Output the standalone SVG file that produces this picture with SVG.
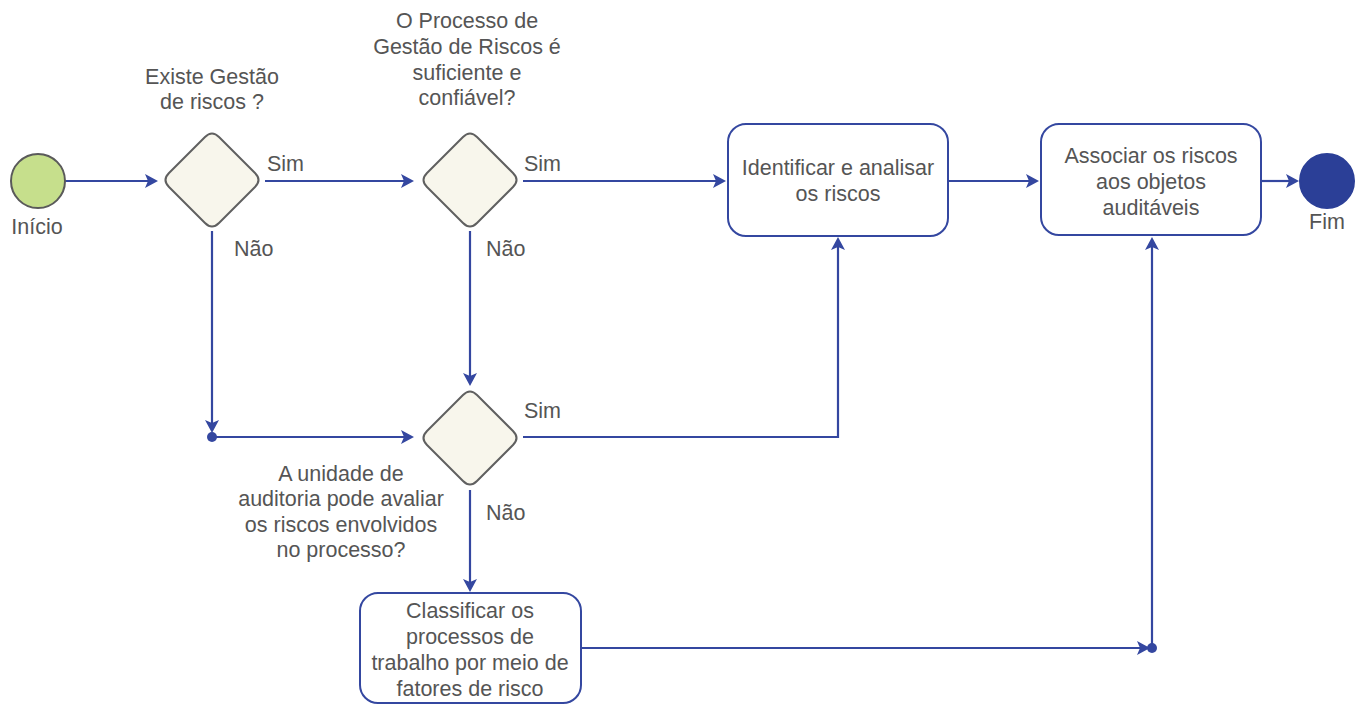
<svg xmlns="http://www.w3.org/2000/svg" width="1364" height="704" viewBox="0 0 1364 704">
<defs>
<style>
.t{font-family:"Liberation Sans",Arial,sans-serif;font-size:21.5px;fill:#555555;text-anchor:middle}
.l{font-family:"Liberation Sans",Arial,sans-serif;font-size:21.5px;fill:#555555}
.c{fill:none;stroke:#3447a0;stroke-width:2.2}
.d{fill:#f8f6ec;stroke:#606060;stroke-width:2;stroke-linejoin:round}
.b{fill:#ffffff;stroke:#3447a0;stroke-width:2}
</style>
</defs>
<rect width="1364" height="704" fill="#ffffff"/>
<g id="connectors">
<path class="c" d="M65,181 H150"/>
<path class="c" d="M265,181 H406"/>
<path class="c" d="M523,181 H718"/>
<path class="c" d="M949,181 H1031"/>
<path class="c" d="M1262,181 H1290"/>
<path class="c" d="M212,231 V425"/>
<path class="c" d="M212,437 H406"/>
<path class="c" d="M470,231 V377"/>
<path class="c" d="M523,437 H838 V246"/>
<path class="c" d="M470,490 V583"/>
<path class="c" d="M582,648 H1142"/>
<path class="c" d="M1152,648 V246"/>
<circle cx="212" cy="437" r="5" fill="#3447a0"/>
<circle cx="1152" cy="648" r="5" fill="#3447a0"/>
<text class="l" x="267" y="171">Sim</text>
<text class="l" x="524" y="171">Sim</text>
<text class="l" x="524" y="418">Sim</text>
<text class="l" x="234" y="256">Não</text>
<text class="l" x="486" y="256">Não</text>
<text class="l" x="486" y="520">Não</text>
</g>
<g id="arrowheads" fill="#3447a0">
<path d="M158,181 l-13,-7 l3,7 l-3,7 z"/>
<path d="M414,181 l-13,-7 l3,7 l-3,7 z"/>
<path d="M726,181 l-13,-7 l3,7 l-3,7 z"/>
<path d="M1039,181 l-13,-7 l3,7 l-3,7 z"/>
<path d="M1299,181 l-13,-7 l3,7 l-3,7 z"/>
<path d="M414,437 l-13,-7 l3,7 l-3,7 z"/>
<path d="M1150,648 l-13,-7 l3,7 l-3,7 z"/>
<path d="M212,433 l-7,-13 l7,3 l7,-3 z"/>
<path d="M470,386 l-7,-13 l7,3 l7,-3 z"/>
<path d="M470,592 l-7,-13 l7,3 l7,-3 z"/>
<path d="M838,237 l-7,13 l7,-3 l7,3 z"/>
<path d="M1152,237 l-7,13 l7,-3 l7,3 z"/>
</g>
<g id="start">
<circle cx="38" cy="181" r="27" fill="#c6df8c" stroke="#5a5a5a" stroke-width="2"/>
<text class="t" x="37" y="234">Início</text>
</g>
<g id="decision1">
<path class="d" d="M205,137 Q212,130 219,137 L255,173 Q262,180 255,187 L219,223 Q212,230 205,223 L169,187 Q162,180 169,173 Z"/>
<text class="t" x="212" y="84">Existe Gestão</text>
<text class="t" x="212" y="109">de riscos ?</text>
</g>
<g id="decision2">
<path class="d" d="M463,137 Q470,130 477,137 L513,173 Q520,180 513,187 L477,223 Q470,230 463,223 L427,187 Q420,180 427,173 Z"/>
<text class="t" x="467" y="28">O Processo de</text>
<text class="t" x="467" y="54">Gestão de Riscos é</text>
<text class="t" x="467" y="80">suficiente e</text>
<text class="t" x="467" y="105">confiável?</text>
</g>
<g id="decision3">
<path class="d" d="M463,395 Q470,388 477,395 L513,431 Q520,438 513,445 L477,481 Q470,488 463,481 L427,445 Q420,438 427,431 Z"/>
<text class="t" x="341" y="481">A unidade de</text>
<text class="t" x="341" y="506">auditoria pode avaliar</text>
<text class="t" x="341" y="532">os riscos envolvidos</text>
<text class="t" x="341" y="557">no processo?</text>
</g>
<g id="identificar">
<rect class="b" x="728" y="124" width="220" height="112" rx="18"/>
<text class="t" x="838" y="175">Identificar e analisar</text>
<text class="t" x="838" y="201">os riscos</text>
</g>
<g id="associar">
<rect class="b" x="1041" y="124" width="220" height="111" rx="18"/>
<text class="t" x="1151" y="163">Associar os riscos</text>
<text class="t" x="1151" y="189">aos objetos</text>
<text class="t" x="1151" y="215">auditáveis</text>
</g>
<g id="classificar">
<rect class="b" x="360" y="593" width="221" height="110" rx="18"/>
<text class="t" x="470" y="618">Classificar os</text>
<text class="t" x="470" y="644">processos de</text>
<text class="t" x="470" y="670">trabalho por meio de</text>
<text class="t" x="470" y="696">fatores de risco</text>
</g>
<g id="end">
<circle cx="1327" cy="181" r="27" fill="#2b3f97" stroke="#2b3f97" stroke-width="2"/>
<text class="t" x="1327" y="229">Fim</text>
</g>
</svg>
